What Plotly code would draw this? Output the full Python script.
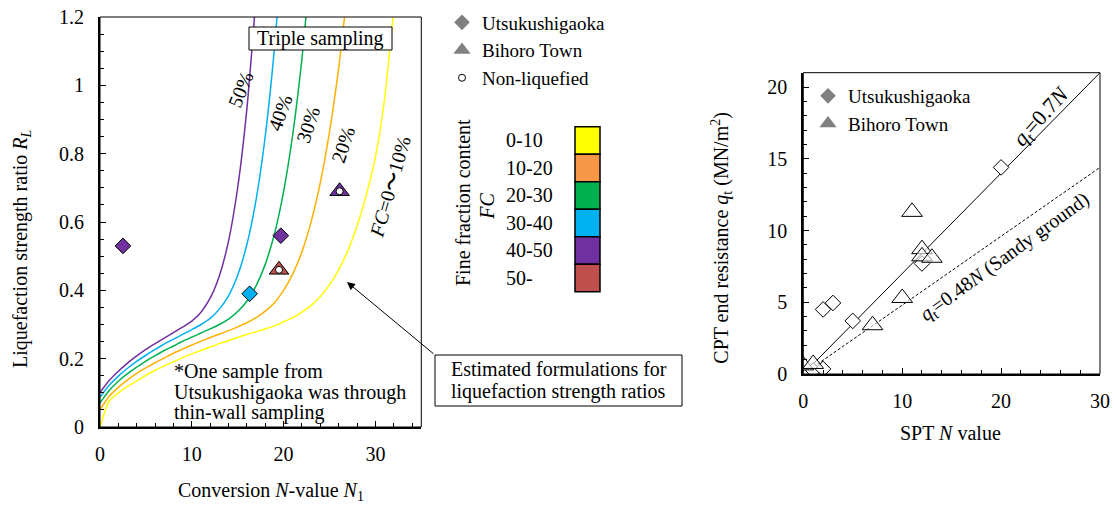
import plotly.graph_objects as go

W, H = 1114, 505
SERIF = "Liberation Serif, Times New Roman, serif"

# ---------------- Left chart data: estimated R_L curves vs N1 ----------------
N_fc10 = list(range(0, 34))
RL_fc10 = [0, 0.076, 0.100, 0.119, 0.135, 0.151, 0.166, 0.179, 0.191, 0.203, 0.214,
           0.224, 0.234, 0.244, 0.253, 0.262, 0.271, 0.279, 0.287, 0.296, 0.308,
           0.320, 0.336, 0.356, 0.382, 0.416, 0.460, 0.516, 0.588, 0.678, 0.790,
           0.960, 1.220, 1.450]
N_fc20 = list(range(0, 28))
RL_fc20 = [0.050, 0.090, 0.116, 0.138, 0.157, 0.173, 0.188, 0.202, 0.216, 0.228,
           0.240, 0.251, 0.262, 0.272, 0.282, 0.293, 0.305, 0.320, 0.339, 0.364,
           0.400, 0.448, 0.513, 0.601, 0.715, 0.864, 1.051, 1.288]
N_fc30 = list(range(0, 24))
RL_fc30 = [0.071, 0.107, 0.134, 0.156, 0.175, 0.193, 0.209, 0.224, 0.237, 0.251,
           0.263, 0.275, 0.287, 0.300, 0.316, 0.338, 0.368, 0.413, 0.476, 0.565,
           0.689, 0.857, 1.079, 1.369]
N_fc40 = list(range(0, 21))
RL_fc40 = [0.087, 0.122, 0.149, 0.172, 0.192, 0.210, 0.227, 0.243, 0.257, 0.271,
           0.285, 0.300, 0.318, 0.345, 0.384, 0.444, 0.534, 0.665, 0.851, 1.108,
           1.455]
N_fc50 = list(range(0, 18))
RL_fc50 = [0.101, 0.136, 0.163, 0.187, 0.208, 0.227, 0.244, 0.260, 0.276, 0.292,
           0.310, 0.336, 0.377, 0.442, 0.544, 0.701, 0.931, 1.259]

curve_colors = ["#FFFF00", "#FFB000", "#00B050", "#00B0F0", "#7030A0"]

# Measured samples (left chart)
ut_N1 = [2.5, 19.7, 16.3]
ut_RL = [0.53, 0.56, 0.39]
ut_col = ["#7030A0", "#7030A0", "#00B0F0"]
bi_N1 = [26.1, 19.5]
bi_RL = [0.69, 0.46]
bi_col = ["#7030A0", "#C0504D"]

# FC colour key
fc_labels = ["0-10", "10-20", "20-30", "30-40", "40-50", "50-"]
fc_colors = ["#FFFF00", "#F79646", "#00B050", "#00B0F0", "#7030A0", "#C0504D"]

# ---------------- Right chart data: SPT N vs CPT qt ----------------
ut_N = [20, 12, 5, 2, 3, 1, 2]
ut_qt = [14.4, 7.7, 3.7, 4.5, 4.95, 0.25, 0.35]
bi_N = [11, 12, 12, 13, 10, 7, 0, 1]
bi_qt = [11.3, 8.7, 8.2, 8.1, 5.3, 3.4, 0.6, 0.7]
line_N = [1, 30]
line_qt07 = [0.7, 21.0]
line_qt048 = [0.48, 14.4]


def P(x, y):
    return x / W, 1 - y / H


fig = go.Figure()

for n, r, c in zip([N_fc10, N_fc20, N_fc30, N_fc40, N_fc50],
                   [RL_fc10, RL_fc20, RL_fc30, RL_fc40, RL_fc50], curve_colors):
    fig.add_trace(go.Scatter(x=n, y=r, mode="lines", line=dict(color=c, width=1.5, shape="spline", smoothing=0.6),
                             showlegend=False, hoverinfo="skip", xaxis="x", yaxis="y"))

fig.add_trace(go.Scatter(x=ut_N1, y=ut_RL, mode="markers", showlegend=False,
                         marker=dict(symbol="diamond", size=12, color=ut_col, line=dict(color="black", width=1)),
                         xaxis="x", yaxis="y"))
fig.add_trace(go.Scatter(x=bi_N1, y=bi_RL, mode="markers", showlegend=False,
                         marker=dict(symbol="triangle-up", size=17, color=bi_col, line=dict(color="black", width=1)),
                         xaxis="x", yaxis="y"))
fig.add_trace(go.Scatter(x=bi_N1, y=bi_RL, mode="markers", showlegend=False,
                         marker=dict(symbol="circle", size=7, color="white", line=dict(color="black", width=1)),
                         xaxis="x", yaxis="y"))

# legend entries (left)
fig.add_trace(go.Scatter(x=[None], y=[None], mode="markers", name="Utsukushigaoka", legend="legend",
                         marker=dict(symbol="diamond", size=12, color="#808080"), xaxis="x", yaxis="y"))
fig.add_trace(go.Scatter(x=[None], y=[None], mode="markers", name="Bihoro Town", legend="legend",
                         marker=dict(symbol="triangle-up", size=15, color="#808080"), xaxis="x", yaxis="y"))
fig.add_trace(go.Scatter(x=[None], y=[None], mode="markers", name="Non-liquefied", legend="legend",
                         marker=dict(symbol="circle", size=7, color="white", line=dict(color="black", width=1)),
                         xaxis="x", yaxis="y"))

# Right chart
fig.add_trace(go.Scatter(x=line_N, y=line_qt07, mode="lines", line=dict(color="black", width=1),
                         showlegend=False, xaxis="x2", yaxis="y2"))
fig.add_trace(go.Scatter(x=line_N, y=line_qt048, mode="lines", line=dict(color="black", width=1, dash="3px,2px"),
                         showlegend=False, xaxis="x2", yaxis="y2"))
fig.add_trace(go.Scatter(x=ut_N, y=ut_qt, mode="markers", showlegend=False,
                         marker=dict(symbol="diamond", size=12, color="white", line=dict(color="black", width=1)),
                         xaxis="x2", yaxis="y2"))
fig.add_trace(go.Scatter(x=bi_N, y=bi_qt, mode="markers", showlegend=False,
                         marker=dict(symbol="triangle-up", size=18, color="rgba(255,255,255,0.6)",
                                     line=dict(color="black", width=1)),
                         xaxis="x2", yaxis="y2"))
fig.add_trace(go.Scatter(x=[None], y=[None], mode="markers", name="Utsukushigaoka", legend="legend2",
                         marker=dict(symbol="diamond", size=12, color="#808080"), xaxis="x2", yaxis="y2"))
fig.add_trace(go.Scatter(x=[None], y=[None], mode="markers", name="Bihoro Town", legend="legend2",
                         marker=dict(symbol="triangle-up", size=15, color="#808080"), xaxis="x2", yaxis="y2"))

axis_common = dict(showline=True, linecolor="black", linewidth=2, ticks="inside", ticklen=6,
                   tickwidth=1, tickcolor="black", showgrid=False, zeroline=False, automargin=False,
                   tickfont=dict(family=SERIF, size=20, color="black"))

fig.update_layout(
    template="none",
    width=W, height=H, margin=dict(l=0, r=0, t=0, b=0, pad=0),
    paper_bgcolor="white", plot_bgcolor="white",
    font=dict(family=SERIF, size=20, color="black"),
    xaxis=dict(domain=[100 / W, 421.3 / W], range=[0, 35], dtick=10, anchor="y",
               minor=dict(dtick=2, ticks="inside", ticklen=4, tickcolor="black"),
               ticklabelstandoff=8, **axis_common),
    yaxis=dict(domain=[1 - 427 / H, 1 - 17 / H], range=[0, 1.2], dtick=0.2, anchor="x",
               minor=dict(dtick=0.05, ticks="inside", ticklen=4, tickcolor="black"),
               ticklabelstandoff=10, **axis_common),
    xaxis2=dict(domain=[803.3 / W, 1100 / W], range=[0, 30], dtick=10, anchor="y2",
                minor=dict(dtick=2, ticks="inside", ticklen=4, tickcolor="black"),
                ticklabelstandoff=8, **axis_common),
    yaxis2=dict(domain=[1 - 374 / H, 1 - 72.7 / H], range=[0, 21], dtick=5, anchor="x2",
                minor=dict(dtick=1, ticks="inside", ticklen=4, tickcolor="black"),
                ticklabelstandoff=10, **axis_common),
    legend=dict(x=442 / W, y=1 - 3.5 / H, xanchor="left", yanchor="top", bgcolor="rgba(0,0,0,0)",
                font=dict(family=SERIF, size=19), borderwidth=0),
    legend2=dict(x=808 / W, y=1 - 77 / H, xanchor="left", yanchor="top", bgcolor="rgba(0,0,0,0)",
                 font=dict(family=SERIF, size=19), borderwidth=0),
)

shapes = []
for xr, yr in [("x domain", "y domain"), ("x2 domain", "y2 domain")]:
    shapes.append(dict(type="rect", xref=xr, yref=yr, x0=0, x1=1, y0=0, y1=1,
                       line=dict(color="black", width=1)))


def rect_px(x0, y0, x1, y1, fill="rgba(0,0,0,0)", lw=1):
    a = P(x0, y0)
    b = P(x1, y1)
    return dict(type="rect", xref="paper", yref="paper", x0=a[0], y0=b[1], x1=b[0], y1=a[1],
                line=dict(color="black", width=lw), fillcolor=fill, layer="above")


shapes.append(rect_px(249, 27, 392, 50, fill="white"))
shapes.append(rect_px(435, 355, 682, 406, fill="white"))
box_top, box_h = 126.7, 27.5
for i, c in enumerate(fc_colors):
    shapes.append(rect_px(575, box_top + i * box_h, 600, box_top + (i + 1) * box_h, fill=c, lw=1.5))
fig.update_layout(shapes=shapes)

ann = []


def txt(x, y, t, size=20, angle=0, xa="center", ya="middle"):
    px, py = P(x, y)
    ann.append(dict(x=px, y=py, xref="paper", yref="paper", text=t, showarrow=False,
                    textangle=angle, xanchor=xa, yanchor=ya,
                    font=dict(family=SERIF, size=size, color="black")))


txt(320.5, 38.5, "Triple sampling")
txt(240.7, 89, "50%", angle=-68)
txt(280, 113, "40%", angle=-70)
txt(308, 125, "30%", angle=-72)
txt(343, 145, "20%", angle=-72)
txt(390, 187, "<i>FC</i>=0〜10%", angle=-74)
txt(171.7, 371.7, "*One sample from", xa="left")
txt(171.7, 392, "Utsukushigaoka was through", xa="left")
txt(171.7, 412.5, "thin-wall sampling", xa="left")
txt(558.5, 368.5, "Estimated formulations for")
txt(558.5, 391, "liquefaction strength ratios")
txt(271, 491.7, "Conversion <i>N</i>-value <i>N</i><sub>1</sub>")
txt(21, 249, "Liquefaction strength ratio <i>R</i><sub><i>L</i></sub>", angle=-90)
txt(463, 203, "Fine fraction content", angle=-90)
txt(487, 206.7, "<i>FC</i>", angle=-90)
for i, lab in enumerate(fc_labels):
    txt(504, box_top + (i + 0.5) * box_h, lab, xa="left")
txt(950, 433, "SPT <i>N</i> value")
txt(721.7, 238, "CPT end resistance <i>q</i><sub>t</sub> (MN/m<sup>2</sup>)", angle=-90)
txt(1041.7, 116.7, "<i>q</i><sub>t</sub>=0.7<i>N</i>", size=22, angle=-48)
txt(1005, 257, "<i>q</i><sub>t</sub>=0.48<i>N</i> (Sandy ground)", angle=-36)

hx, hy = P(347, 282)
ann.append(dict(x=hx, y=hy, xref="paper", yref="paper", text="", showarrow=True,
                ax=435 - 347, ay=355 - 282, arrowhead=2, arrowsize=1.6, arrowwidth=1,
                arrowcolor="black"))
fig.update_layout(annotations=ann)

fig.write_html("out.html", config={"displayModeBar": False},
               post_script="document.body.style.margin='0px';")
